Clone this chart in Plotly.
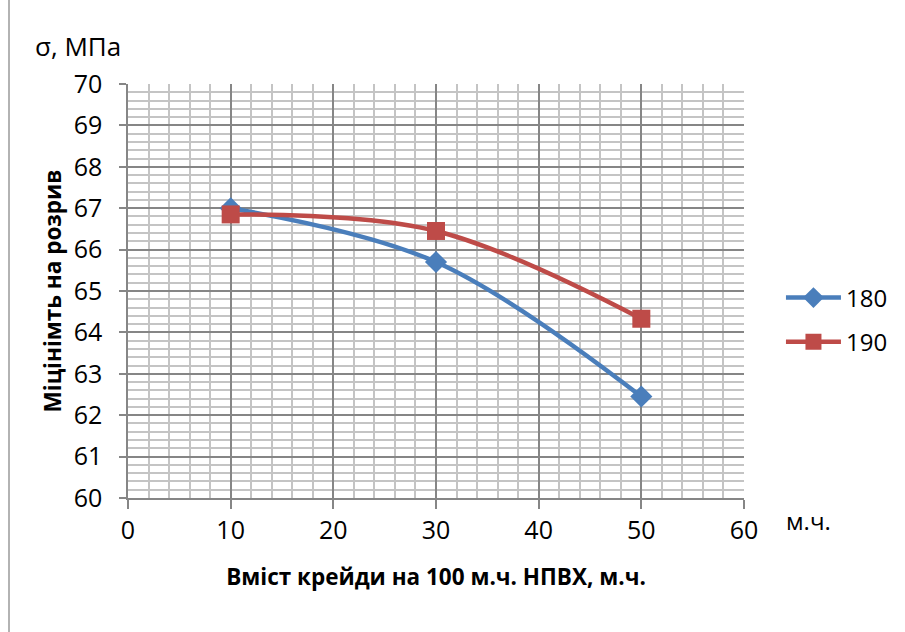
import plotly.graph_objects as go

x_vals = [10, 30, 50]
s180 = [67.0, 65.7, 62.45]
s190 = [66.85, 66.45, 64.33]
series_names = ["180", "190"]

FONT = "Open Sans"

fig = go.Figure()
fig.add_trace(go.Scatter(
    x=x_vals, y=s180, name=series_names[0], mode="lines+markers",
    legendgroup="a",
    line=dict(color="#4A7EBB", width=4.5, shape="spline", smoothing=1.0),
    marker=dict(symbol="diamond", size=17, color="#4A7EBB"),
))
fig.add_trace(go.Scatter(
    x=x_vals, y=s190, name=series_names[1], mode="lines+markers",
    legendgroup="b",
    line=dict(color="#BE4B48", width=4.5, shape="spline", smoothing=1.0),
    marker=dict(symbol="square", size=18, color="#BE4B48"),
))

fig.update_layout(
    width=905, height=632,
    margin=dict(l=128, r=161, t=84, b=134, pad=0),
    paper_bgcolor="white", plot_bgcolor="white",
    font=dict(family=FONT, size=24, color="black"),
    showlegend=True,
    legend=dict(x=1.06, y=0.43, xanchor="left", yanchor="middle",
                font=dict(size=24), tracegroupgap=10, itemwidth=55),
    xaxis=dict(
        range=[0, 60], dtick=10, tick0=0,
        showgrid=True, gridcolor="#868686", gridwidth=1.5,
        minor=dict(dtick=2, showgrid=True, gridcolor="#c4c4c4", gridwidth=1.5),
        showline=True, linecolor="#868686", linewidth=1.5,
        ticks="outside", ticklen=9, tickcolor="#868686", tickwidth=1.5,
        tickfont=dict(size=25), zeroline=False,
        title=dict(text="<b>Вміст крейди на 100 м.ч. НПВХ, м.ч.</b>",
                   font=dict(size=22.5), standoff=24),
    ),
    yaxis=dict(
        range=[60, 70], dtick=1, tick0=60,
        showgrid=True, gridcolor="#868686", gridwidth=1.5,
        minor=dict(dtick=0.2, showgrid=True, gridcolor="#c4c4c4", gridwidth=1.5),
        showline=True, linecolor="#868686", linewidth=1.5,
        ticks="outside", ticklen=7, tickcolor="#868686", tickwidth=1.5,
        tickfont=dict(size=25), zeroline=False, ticklabelstandoff=12,
        title=dict(text="<b>Міцінімть на розрив</b>", font=dict(size=22.5), standoff=6),
    ),
    shapes=[dict(type="rect", xref="paper", yref="paper",
                 x0=-128/616 + 9/616, x1=(905-128+10)/616,
                 y0=-200/414, y1=(632-84-7)/414 + 0.0,
                 line=dict(color="#9a9a9a", width=1.5), fillcolor="rgba(0,0,0,0)",
                 layer="below")],
    annotations=[
        dict(text="σ, МПа", xref="paper", yref="paper",
             x=-95/616, y=1 + 38/414, xanchor="left", yanchor="middle",
             showarrow=False, font=dict(size=26)),
        dict(text="м.ч.", xref="paper", yref="paper",
             x=1 + 64/616, y=-22/414, xanchor="center", yanchor="middle",
             showarrow=False, font=dict(size=24)),
    ],
)

fig.write_html("out.html")
